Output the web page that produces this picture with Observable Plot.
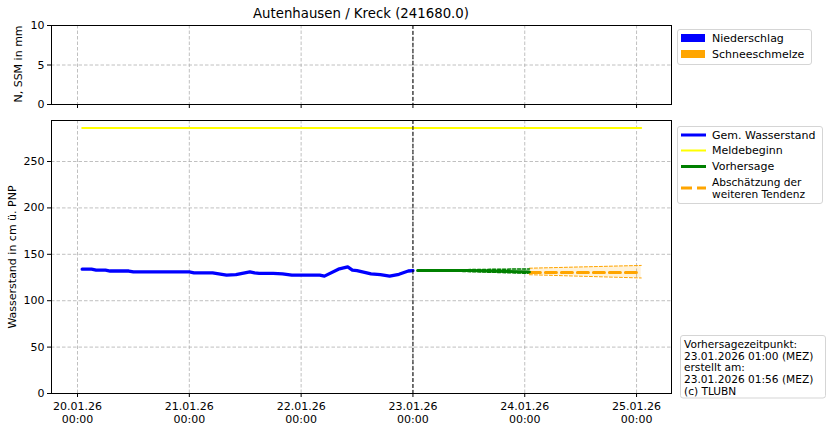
<!DOCTYPE html>
<html>
<head>
<meta charset="utf-8">
<script src="https://cdn.jsdelivr.net/npm/d3@7"></script>
<script src="https://cdn.jsdelivr.net/npm/@observablehq/plot@0.6"></script>
<style>
  body { margin: 0; background: #fff; font-family: "DejaVu Sans", sans-serif; }
  #wrap { position: relative; width: 830px; height: 431px; overflow: hidden; background: #fff; }
  #wrap > .pane { position: absolute; left: 0; }
  #overlay { position: absolute; left: 0; top: 0; pointer-events: none; }
</style>
</head>
<body>
<div id="wrap"></div>
<script>
// ---------- data ----------
const titleText = "Autenhausen / Kreck (241680.0)";
const yLabelTop = "N, SSM in mm";
const yLabelBottom = "Wasserstand in cm ü. PNP";

const obsTime = ["2026-01-20T01:00","2026-01-20T03:00","2026-01-20T04:00","2026-01-20T06:00","2026-01-20T07:00",
  "2026-01-20T11:00","2026-01-20T12:00","2026-01-21T00:00","2026-01-21T01:00","2026-01-21T05:00",
  "2026-01-21T08:00","2026-01-21T10:00","2026-01-21T13:00","2026-01-21T14:00","2026-01-21T15:00",
  "2026-01-21T18:00","2026-01-21T20:00","2026-01-21T22:00","2026-01-22T04:00","2026-01-22T05:00",
  "2026-01-22T08:00","2026-01-22T10:00","2026-01-22T11:00","2026-01-22T12:00","2026-01-22T15:00",
  "2026-01-22T17:00","2026-01-22T19:00","2026-01-22T21:00","2026-01-22T23:00","2026-01-23T00:00"];
const obsLevel = [134,134,133,133,132,
  132,131,131,130,130,
  127.5,128,131,130,129.5,
  129.5,129,127.5,127.5,126.5,
  134,136.5,133,132.5,129,
  128,126.5,128.5,132,132.5];

const meldeTime = ["2026-01-20T01:00","2026-01-25T01:00"];
const meldeLevel = [286, 286];

const fcTime = ["2026-01-23T01:00","2026-01-23T12:00","2026-01-24T01:00"];
const fcLevel = [132.5, 132.5, 131];

const fcBandTime = ["2026-01-23T01:00","2026-01-23T09:00","2026-01-24T01:00"];
const fcLow  = [132.5, 131.8, 129.5];
const fcHigh = [132.5, 133.3, 134.3];

const tendTime = ["2026-01-24T01:00","2026-01-25T01:00"];
const tendLevel = [130.5, 130.5];
const tendLow  = [128, 124.5];
const tendHigh = [135, 138];

const precipTime = [];
const precipValue = [];
const snowmeltValue = [];

const nowTime = "2026-01-23T00:00";
const xTicks = ["2026-01-20T00:00","2026-01-21T00:00","2026-01-22T00:00","2026-01-23T00:00","2026-01-24T00:00","2026-01-25T00:00"];
const yTicksTop = [0, 5, 10];
const yTicksBottom = [0, 50, 100, 150, 200, 250];

const legendTop = [["Niederschlag", "#0000ff"], ["Schneeschmelze", "#ffa500"]];
const legendBottom = ["Gem. Wasserstand", "Meldebeginn", "Vorhersage", "Abschätzung der\nweiteren Tendenz"];
const infoLines = ["Vorhersagezeitpunkt:", "23.01.2026 01:00 (MEZ)", "erstellt am:", "23.01.2026 01:56 (MEZ)", "(c) TLUBN"];

// ---------- helpers ----------
const T = s => new Date(s + "Z");
const xDomain = [T("2026-01-19T18:25"), T("2026-01-25T07:30")];
const xTickDates = xTicks.map(T);
const obs = obsTime.map((t, i) => ({t: T(t), v: obsLevel[i]}));
const melde = meldeTime.map((t, i) => ({t: T(t), v: meldeLevel[i]}));
const fc = fcTime.map((t, i) => ({t: T(t), v: fcLevel[i]}));
const fcBand = fcBandTime.map((t, i) => ({t: T(t), lo: fcLow[i], hi: fcHigh[i]}));
const tend = tendTime.map((t, i) => ({t: T(t), v: tendLevel[i], lo: tendLow[i], hi: tendHigh[i]}));
const precip = precipTime.map((t, i) => ({t: T(t), n: precipValue[i], s: snowmeltValue[i]}));

const gridStyle = {stroke: "#b0b0b0", strokeWidth: 0.8, strokeDasharray: "3.5,2", strokeOpacity: 1};
const style = {fontFamily: "DejaVu Sans, sans-serif", fontSize: "11px", color: "#000", background: "transparent", overflow: "visible"};

// ---------- top pane ----------
const topPane = Plot.plot({
  width: 830, height: 115, marginLeft: 51, marginRight: 159, marginTop: 25, marginBottom: 11,
  style,
  x: {type: "utc", domain: xDomain},
  y: {domain: [0, 10]},
  marks: [
    Plot.ruleX(xTickDates, {x: d => d, ...gridStyle}),
    Plot.ruleY([5], {y: d => d, ...gridStyle}),
    Plot.rectY(precip, {x1: "t", x2: d => new Date(+d.t + 3600e3), y: "n", fill: "#0000ff"}),
    Plot.ruleX([T(nowTime)], {x: d => d, stroke: "#000", strokeWidth: 1, strokeDasharray: "4,2"}),
    Plot.frame({stroke: "#000", strokeWidth: 1}),
    Plot.axisX({ticks: xTickDates, tickFormat: () => "", tickSize: 4, label: null}),
    Plot.axisY({ticks: yTicksTop, tickSize: 4, tickPadding: 3, label: null, tickFormat: d3.format("d")})
  ]
});
topPane.classList.add("pane");
topPane.style.top = "0px";

// ---------- bottom pane ----------
const fmt = d => d3.utcFormat("%d.%m.%y")(d) + "\n" + d3.utcFormat("%H:%M")(d);
const bottomPane = Plot.plot({
  width: 830, height: 321, marginLeft: 51, marginRight: 159, marginTop: 10, marginBottom: 38,
  style,
  x: {type: "utc", domain: xDomain},
  y: {domain: [0, 294.2]},
  marks: [
    Plot.ruleX(xTickDates, {x: d => d, ...gridStyle}),
    Plot.ruleY(yTicksBottom.slice(1), {y: d => d, ...gridStyle}),
    Plot.line(melde, {x: "t", y: "v", stroke: "#ffff00", strokeWidth: 2}),
    Plot.areaY(tend, {x: "t", y1: "lo", y2: "hi", fill: "#ffa500", fillOpacity: 0.15}),
    Plot.line(tend, {x: "t", y: "lo", stroke: "#ffa500", strokeWidth: 1, strokeDasharray: "3,2"}),
    Plot.line(tend, {x: "t", y: "hi", stroke: "#ffa500", strokeWidth: 1, strokeDasharray: "3,2"}),
    Plot.areaY(fcBand, {x: "t", y1: "lo", y2: "hi", fill: "#008000", fillOpacity: 0.2}),
    Plot.line(fcBand, {x: "t", y: "lo", stroke: "#008000", strokeWidth: 1.5, strokeDasharray: "3,2"}),
    Plot.line(fcBand, {x: "t", y: "hi", stroke: "#008000", strokeWidth: 1.5, strokeDasharray: "3,2"}),
    Plot.line(tend, {x: "t", y: "v", stroke: "#ffa500", strokeWidth: 3, strokeDasharray: "11,5"}),
    Plot.line(fc, {x: "t", y: "v", stroke: "#008000", strokeWidth: 3}),
    Plot.line(obs, {x: "t", y: "v", stroke: "#0000ff", strokeWidth: 3.3}),
    Plot.ruleX([T(nowTime)], {x: d => d, stroke: "#000", strokeWidth: 1, strokeDasharray: "4,2"}),
    Plot.frame({stroke: "#000", strokeWidth: 1}),
    Plot.axisX({ticks: xTickDates, tickFormat: fmt, tickSize: 4, tickPadding: 4, lineHeight: 1.15, label: null}),
    Plot.axisY({ticks: yTicksBottom, tickSize: 4, tickPadding: 3, label: null, tickFormat: d3.format("d")})
  ]
});
bottomPane.classList.add("pane");
bottomPane.style.top = "110px";

const wrap = document.getElementById("wrap");
wrap.appendChild(topPane);
wrap.appendChild(bottomPane);

// ---------- overlay: title, axis labels, legends, info box ----------
const svg = d3.create("svg").attr("id", "overlay").attr("width", 830).attr("height", 431)
  .attr("font-family", "DejaVu Sans, sans-serif").attr("fill", "#000");

svg.append("text").attr("x", 361).attr("y", 18).attr("text-anchor", "middle")
  .attr("font-size", "13.3px").text(titleText);
svg.append("text").attr("transform", "translate(22,64) rotate(-90)").attr("text-anchor", "middle")
  .attr("font-size", "11px").text(yLabelTop);
svg.append("text").attr("transform", "translate(16,257) rotate(-90)").attr("text-anchor", "middle")
  .attr("font-size", "11px").text(yLabelBottom);

// top legend
svg.append("rect").attr("x", 677.5).attr("y", 29.5).attr("width", 134).attr("height", 35).attr("rx", 2.5)
  .attr("fill", "#fff").attr("fill-opacity", 0.8).attr("stroke", "#d5d5d5");
legendTop.forEach(([name, col], i) => {
  const cy = 38 + i * 16;
  svg.append("rect").attr("x", 681).attr("y", cy - 4).attr("width", 24).attr("height", 8).attr("fill", col);
  svg.append("text").attr("x", 712).attr("y", cy).attr("dy", "0.35em").attr("font-size", "11px").text(name);
});

// bottom legend
svg.append("rect").attr("x", 677.5).attr("y", 126.5).attr("width", 145).attr("height", 77).attr("rx", 2.5)
  .attr("fill", "#fff").attr("fill-opacity", 0.8).attr("stroke", "#d5d5d5");
const lgRows = [
  {y: 135, stroke: "#0000ff", w: 3, dash: null},
  {y: 150.5, stroke: "#ffff00", w: 2, dash: null},
  {y: 166.5, stroke: "#008000", w: 3, dash: null},
  {y: 188, stroke: "#ffa500", w: 3, dash: "11,5"}
];
legendBottom.forEach((name, i) => {
  const r = lgRows[i];
  const l = svg.append("line").attr("x1", 681).attr("x2", 706).attr("y1", r.y).attr("y2", r.y)
    .attr("stroke", r.stroke).attr("stroke-width", r.w);
  if (r.dash) l.attr("stroke-dasharray", r.dash);
  const parts = name.split("\n");
  const t = svg.append("text").attr("font-size", parts.length === 1 ? "11px" : "10.6px");
  parts.forEach((p, j) => {
    const yy = parts.length === 1 ? r.y : r.y - 6 + j * 11.8;
    t.append("tspan").attr("x", 712).attr("y", yy).attr("dy", "0.35em").text(p);
  });
});

// info box
svg.append("rect").attr("x", 680.5).attr("y", 335.5).attr("width", 145).attr("height", 62.5).attr("rx", 2.5)
  .attr("fill", "#fff").attr("fill-opacity", 0.8).attr("stroke", "#d5d5d5");
const info = svg.append("text").attr("font-size", "10.6px");
infoLines.forEach((line, j) => {
  info.append("tspan").attr("x", 684).attr("y", 344 + j * 11.8).attr("dy", "0.35em").text(line);
});

wrap.appendChild(svg.node());
</script>
</body>
</html>
